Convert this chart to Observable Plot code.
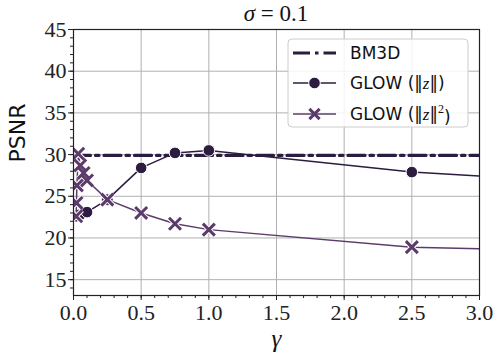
<!DOCTYPE html>
<html><head><meta charset="utf-8">
<script src="https://cdn.jsdelivr.net/npm/d3@7"></script>
<script src="https://cdn.jsdelivr.net/npm/@observablehq/plot@0.6"></script>
<style>body{margin:0;background:#fff}</style>
</head><body><div id="chart"></div>
<script>
// Data
const bm3dGamma = [0, 5];
const bm3dPSNR = [29.9, 29.9];
const normGamma = [0.02, 0.05, 0.1, 0.25, 0.5, 0.75, 1.0, 2.5, 5.0];
const normPSNR  = [22.6, 22.8, 23.1, 24.6, 28.4, 30.2, 30.5, 27.9, 25.6];
const sqGamma = [0.02, 0.022, 0.025, 0.035, 0.05, 0.075, 0.1, 0.25, 0.5, 0.75, 1.0, 2.5, 5.0];
const sqPSNR  = [22.6, 24.2, 26.3, 30.1, 28.7, 27.8, 26.9, 24.6, 23.0, 21.7, 21.0, 18.9, 17.9];
const xMajor = [0, 0.5, 1, 1.5, 2, 2.5, 3];
const yMajor = [15, 20, 25, 30, 35, 40, 45];
const xMinor = d3.range(0, 3.01, 0.1);
const yMinor = d3.range(14, 46, 1);

const cDark = "#2c1c3f";
const cLight = "#5c3b6b";
const bm3d = bm3dGamma.map((g, i) => ({g, p: bm3dPSNR[i]}));
const norm = normGamma.map((g, i) => ({g, p: normPSNR[i]}));
const sq = sqGamma.map((g, i) => ({g, p: sqPSNR[i]}));

const serif = "'Liberation Serif', 'DejaVu Serif', serif";
const plot = Plot.plot({
  width: 494, height: 356,
  marginLeft: 73, marginRight: 15, marginTop: 29, marginBottom: 61,
  x: {domain: [0, 3]},
  y: {domain: [13.1, 45]},
  style: {fontFamily: serif, background: "#fff"},
  marks: [
    Plot.gridX(xMajor.slice(1, -1), {stroke: "#b0b0b0", strokeOpacity: 1, strokeWidth: 1}),
    Plot.gridY(yMajor, {stroke: "#b0b0b0", strokeOpacity: 1, strokeWidth: 1}),
    Plot.axisX(xMinor, {tickSize: 3, text: null, label: null, stroke: "#222"}),
    Plot.axisY(yMinor, {tickSize: 3, text: null, label: null, stroke: "#222"}),
    Plot.axisX(xMajor, {tickSize: 5, tickPadding: 4, fontSize: 22, stroke: "#222", fill: "#222", label: null, tickFormat: d3.format(".1f")}),
    Plot.axisY(yMajor, {tickSize: 5, tickPadding: 2, fontSize: 22, stroke: "#222", fill: "#222", label: null}),
    Plot.line(bm3d, {x: "g", y: "p", stroke: cDark, strokeWidth: 3.2, strokeDasharray: "17,5,3.5,5", clip: true}),
    Plot.line(norm, {x: "g", y: "p", stroke: cDark, strokeWidth: 1.5, clip: true}),
    Plot.dot(norm, {x: "g", y: "p", r: 5.8, fill: cDark, stroke: "#fff", strokeWidth: 1, clip: true}),
    Plot.line(sq, {x: "g", y: "p", stroke: cLight, strokeWidth: 1.5, clip: true}),
    Plot.dot(sq, {x: "g", y: "p", symbol: "times", r: 5.5, stroke: "#fff", strokeWidth: 5, clip: true}),
    Plot.dot(sq, {x: "g", y: "p", symbol: "times", r: 5.5, stroke: cLight, strokeWidth: 3, clip: true}),
    Plot.frame({stroke: "#222", strokeWidth: 1.2}),
    Plot.text(["PSNR"], {frameAnchor: "left", dx: -56, rotate: -90, fontSize: 22, fontFamily: "'DejaVu Sans', sans-serif", fill: "#111"}),
    Plot.text(["γ"], {frameAnchor: "bottom", dy: 51, fontSize: 25, fontStyle: "italic", fill: "#111"})
  ]
});
document.getElementById("chart").appendChild(plot);

// Title
const svg = d3.select(plot);
const t = svg.append("text").attr("x", 276).attr("y", 21).attr("text-anchor", "middle")
  .attr("font-family", serif).attr("font-size", 23).attr("fill", "#111");
t.append("tspan").attr("font-style", "italic").text("σ");
t.append("tspan").text(" = 0.1");

// Legend
const lg = svg.append("g").attr("font-family", "'DejaVu Sans', sans-serif").attr("font-size", 17)
  .attr("fill", "#111").attr("text-anchor", "start");
lg.append("rect").attr("x", 288).attr("y", 39).attr("width", 180).attr("height", 88).attr("rx", 4)
  .attr("fill", "#fff").attr("fill-opacity", 0.85).attr("stroke", "#ccc");
const rows = [53, 83, 114];
lg.append("line").attr("x1", 293).attr("x2", 336).attr("y1", rows[0]).attr("y2", rows[0])
  .attr("stroke", cDark).attr("stroke-width", 3.2).attr("stroke-dasharray", "17,5,3.5,5");
lg.append("line").attr("x1", 293).attr("x2", 336).attr("y1", rows[1]).attr("y2", rows[1])
  .attr("stroke", cDark).attr("stroke-width", 1.5);
lg.append("circle").attr("cx", 314.5).attr("cy", rows[1]).attr("r", 5.8).attr("fill", cDark).attr("stroke", "#fff");
lg.append("line").attr("x1", 293).attr("x2", 336).attr("y1", rows[2]).attr("y2", rows[2])
  .attr("stroke", cLight).attr("stroke-width", 1.5);
lg.append("path").attr("d", d3.symbol(d3.symbolTimes, 70)()).attr("transform", `translate(314.5,${rows[2]})`)
  .attr("fill", "none").attr("stroke", cLight).attr("stroke-width", 3);
const labels = [["BM3D"], ["GLOW (", "‖", "z", "‖", ")"], ["GLOW (", "‖", "z", "‖", "2", ")"]];
labels.forEach((parts, i) => {
  const tx = lg.append("text").attr("x", 350).attr("y", rows[i]).attr("dy", "0.36em");
  parts.forEach((s, j) => {
    const ts = tx.append("tspan").text(s);
    if (s === "z") ts.attr("font-family", serif).attr("font-style", "italic");
    if (s === "2") ts.attr("font-family", serif).attr("font-size", 12).attr("dy", "-0.6em");
    if (s === ")" && j === 5) ts.attr("dy", "0.6em");
  });
});
</script></body></html>
